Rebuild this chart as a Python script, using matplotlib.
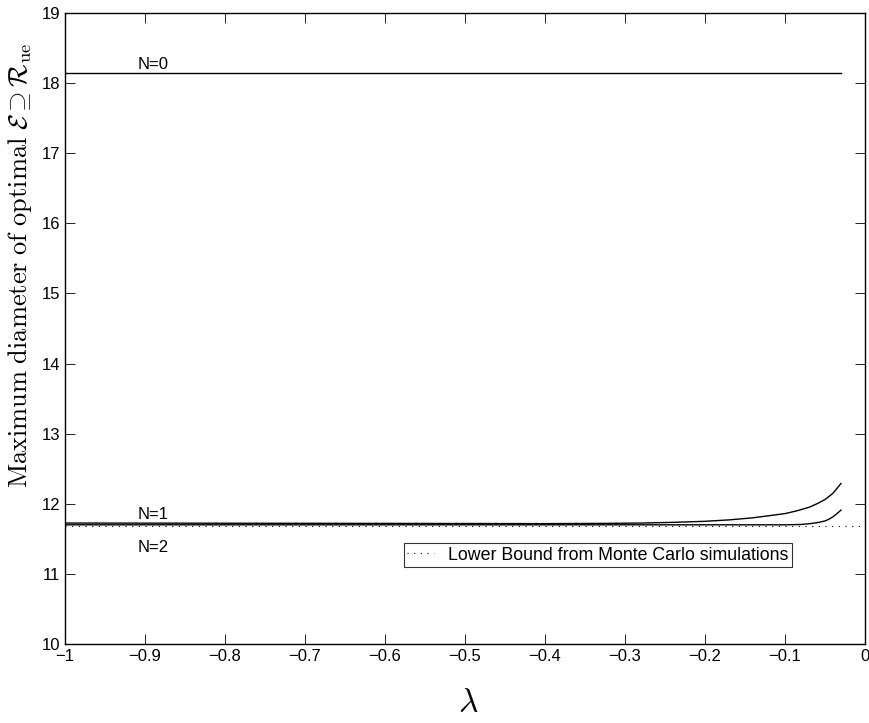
import numpy as np
import matplotlib
matplotlib.use("Agg")
import matplotlib.pyplot as plt

plt.rcParams['font.family'] = ['Liberation Sans', 'DejaVu Sans']
plt.rcParams['mathtext.fontset'] = 'cm'

# Data
lam_n0 = [-1.0, -0.03]
val_n0 = [18.14, 18.14]

lam_n1 = [-1.0, -0.6, -0.4, -0.33, -0.28, -0.24, -0.2, -0.17, -0.14, -0.12, -0.1,
          -0.085, -0.07, -0.06, -0.05, -0.04, -0.03]
val_n1 = [11.725, 11.72, 11.717, 11.72, 11.725, 11.735, 11.75, 11.77, 11.8, 11.83, 11.86,
          11.9, 11.95, 12.0, 12.06, 12.15, 12.29]

lam_n2 = [-1.0, -0.5, -0.2, -0.1, -0.08, -0.07, -0.06, -0.05, -0.045, -0.04, -0.035, -0.03]
val_n2 = [11.70, 11.70, 11.70, 11.70, 11.705, 11.715, 11.73, 11.755, 11.78, 11.815, 11.86, 11.91]

lam_lb = [-1.0, 0.0]
val_lb = [11.68, 11.68]

xticks = [-1, -0.9, -0.8, -0.7, -0.6, -0.5, -0.4, -0.3, -0.2, -0.1, 0]
xticklabels = ['\u22121', '\u22120.9', '\u22120.8', '\u22120.7', '\u22120.6', '\u22120.5',
               '\u22120.4', '\u22120.3', '\u22120.2', '\u22120.1', '0']
yticks = list(range(10, 20))

fig = plt.figure(figsize=(8.7, 7.23), dpi=100)
ax = fig.add_axes([65/870, 1 - 644/723, 800/870, 631/723])

ax.plot(lam_n0, val_n0, color='black', lw=1.0)
ax.plot(lam_n1, val_n1, color='black', lw=1.0)
ax.plot(lam_n2, val_n2, color='black', lw=1.0)
lb, = ax.plot(lam_lb, val_lb, color='black', lw=0.8, linestyle=(0, (1, 5)),
              label='Lower Bound from Monte Carlo simulations')

ax.text(-0.89, 18.27, 'N=0', fontsize=12, ha='center', va='center')
ax.text(-0.89, 11.85, 'N=1', fontsize=12, ha='center', va='center')
ax.text(-0.89, 11.37, 'N=2', fontsize=12, ha='center', va='center')

ax.set_xlim(-1, 0)
ax.set_ylim(10, 19)
ax.set_xticks(xticks)
ax.set_xticklabels(xticklabels)
ax.set_yticks(yticks)
ax.tick_params(direction='in', top=True, right=True, labelsize=12, length=7, width=0.6)
for s in ax.spines.values():
    s.set_linewidth(1.0)

leg = ax.legend(handles=[lb], loc='center', bbox_to_anchor=(0.666, 0.141),
                fontsize=12.8, frameon=True, fancybox=False, edgecolor='black',
                handlelength=1.5, borderpad=0.2, handletextpad=0.8)
leg.get_frame().set_linewidth(0.8)

fig.text(468/870, 1 - 704/723, r'$\lambda$', fontsize=24, ha='center', va='center')
fig.text(20/870, 1 - 265/723,
         r'$\mathrm{Maximum\ diameter\ of\ optimal}\ \mathcal{E}\supseteq\mathcal{R}_{\mathrm{ue}}$',
         fontsize=19, rotation=90, ha='center', va='center')

fig.savefig('out.png', dpi=100)
